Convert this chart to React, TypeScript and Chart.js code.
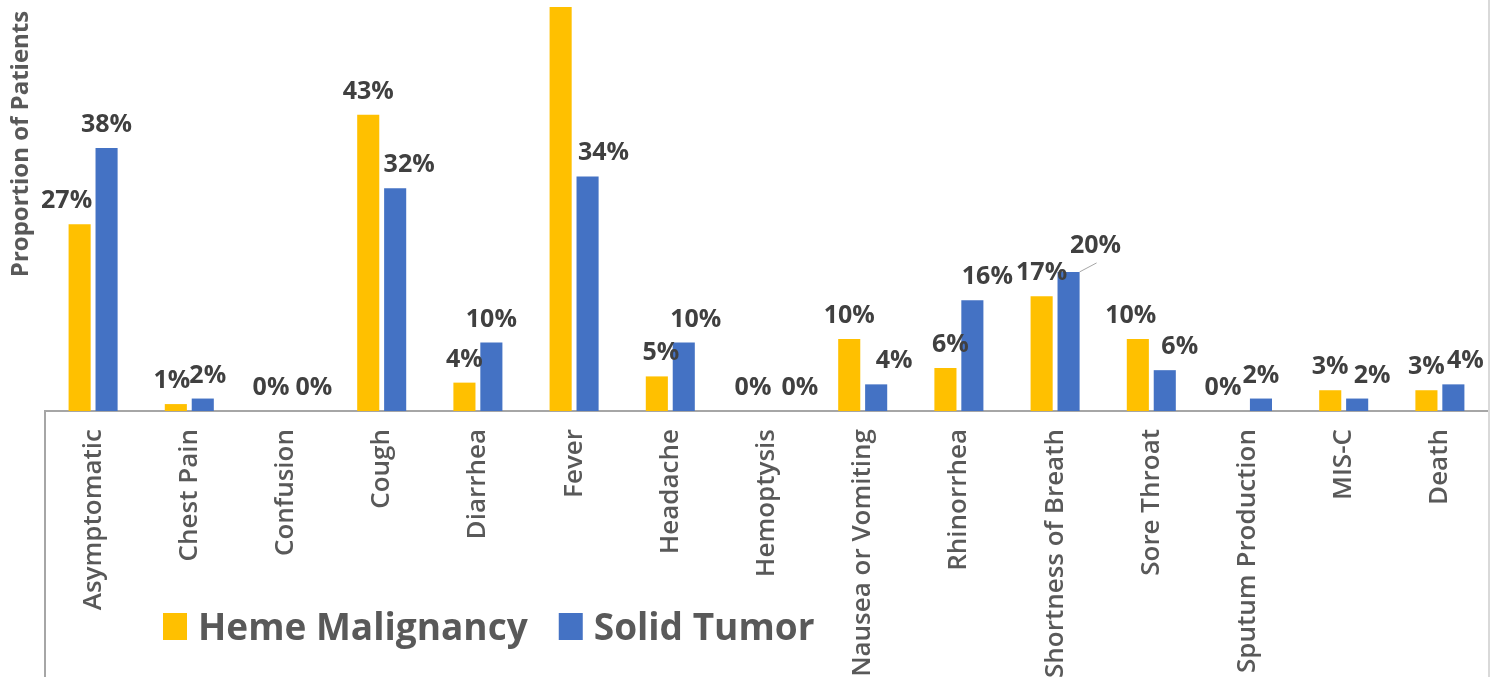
import React, { useEffect, useRef } from "react";
import { Chart, registerables } from "chart.js";

Chart.register(...registerables);

const categories = [
  "Asymptomatic",
  "Chest Pain",
  "Confusion",
  "Cough",
  "Diarrhea",
  "Fever",
  "Headache",
  "Hemoptysis",
  "Nausea or Vomiting",
  "Rhinorrhea",
  "Shortness of Breath",
  "Sore Throat",
  "Sputum Production",
  "MIS-C",
  "Death",
];
const seriesNames = ["Heme Malignancy", "Solid Tumor"];
const hemeValues = [27, 1, 0, 42.8, 4.1, 58.4, 5, 0, 10.4, 6.2, 16.6, 10.4, 0, 3, 3];
const solidValues = [38, 1.8, 0, 32.2, 9.9, 33.9, 9.9, 0, 3.85, 16, 20.1, 5.9, 1.8, 1.8, 3.85];
const yAxisTitle = "Proportion of Patients";
const yMax = 59.4;

const COLORS = ["#FFC000", "#4472C4"];
const TEXT_GRAY = "#595959";
const LABEL_GRAY = "#404040";
const FONT = "'Open Sans', 'Noto Sans', sans-serif";

// small label nudges (dataset-index:category-index -> [dx, dy]) like Excel's label placement
const labelNudges: Record<string, [number, number]> = {
  "0:0": [-13, 0],
  "0:1": [-4, 0],
  "1:1": [5, 0],
  "0:2": [-1, 0],
  "1:2": [15, 0],
  "1:3": [14, 0],
  "1:5": [16, 0],
  "0:6": [4, 0],
  "1:6": [12, 0],
  "1:7": [20, 0],
  "1:8": [18, 0],
  "0:9": [5, 0],
  "1:9": [15, 0],
  "1:10": [27, -3],
  "0:11": [-7, 0],
  "1:11": [15, 0],
  "0:12": [-11, 0],
  "1:13": [15, 0],
  "1:14": [12, 0],
};
const leaderLines = new Set(["1:10"]);

const decorPlugin = {
  id: "decor",
  beforeDraw(chart: any) {
    const { ctx } = chart;
    ctx.save();
    ctx.fillStyle = "#ffffff";
    ctx.fillRect(0, 0, chart.width, chart.height);
    ctx.restore();
  },
  afterDatasetsDraw(chart: any) {
    const { ctx } = chart;
    ctx.save();
    ctx.font = `bold 25px ${FONT}`;
    ctx.fillStyle = LABEL_GRAY;
    ctx.textAlign = "center";
    ctx.textBaseline = "alphabetic";
    chart.data.datasets.forEach((ds: any, di: number) => {
      const meta = chart.getDatasetMeta(di);
      meta.data.forEach((bar: any, j: number) => {
        const v = ds.data[j];
        const key = `${di}:${j}`;
        const [dx, dy] = labelNudges[key] || [0, 0];
        const txt = `${Math.round(v)}%`;
        const x = bar.x + dx;
        const y = bar.y - 16 + dy;
        ctx.fillText(txt, x, y);
        if (leaderLines.has(key)) {
          ctx.save();
          ctx.strokeStyle = "#a6a6a6";
          ctx.lineWidth = 1;
          ctx.beginPath();
          ctx.moveTo(bar.x + 11, bar.y);
          ctx.lineTo(bar.x + 28, bar.y - 9);
          ctx.stroke();
          ctx.restore();
        }
      });
    });
    ctx.restore();
  },
  afterDraw(chart: any) {
    const { ctx, chartArea } = chart;
    ctx.save();
    // left frame line below axis
    ctx.strokeStyle = "#a6a6a6";
    ctx.lineWidth = 2;
    ctx.beginPath();
    ctx.moveTo(chartArea.left, chartArea.bottom);
    ctx.lineTo(chartArea.left, chart.height);
    ctx.stroke();
    // right frame line
    ctx.strokeStyle = "#d9d9d9";
    ctx.beginPath();
    ctx.moveTo(chartArea.right + 1, 0);
    ctx.lineTo(chartArea.right + 1, chart.height);
    ctx.stroke();

    // y axis title
    ctx.save();
    ctx.translate(21, 144);
    ctx.rotate(-Math.PI / 2);
    ctx.font = `bold 24px ${FONT}`;
    ctx.fillStyle = TEXT_GRAY;
    ctx.textAlign = "center";
    ctx.textBaseline = "middle";
    ctx.fillText(yAxisTitle, 0, 0);
    ctx.restore();

    // legend
    ctx.font = `bold 37px ${FONT}`;
    ctx.textBaseline = "alphabetic";
    ctx.textAlign = "left";
    let x = 163;
    const baseline = 640;
    chart.data.datasets.forEach((ds: any) => {
      ctx.fillStyle = ds.backgroundColor;
      ctx.fillRect(x, 613, 24, 27);
      ctx.fillStyle = TEXT_GRAY;
      const tx = x + 35;
      ctx.fillText(ds.label, tx, baseline);
      x = tx + ctx.measureText(ds.label).width + 31;
    });
    ctx.restore();
  },
};

export default function App() {
  const ref = useRef<HTMLCanvasElement | null>(null);
  useEffect(() => {
    if (!ref.current) return;
    const chart = new Chart(ref.current, {
      type: "bar",
      data: {
        labels: categories,
        datasets: [
          {
            label: seriesNames[0],
            data: hemeValues,
            backgroundColor: COLORS[0],
            borderWidth: 0,
            categoryPercentage: 0.56,
            barPercentage: 0.82,
          },
          {
            label: seriesNames[1],
            data: solidValues,
            backgroundColor: COLORS[1],
            borderWidth: 0,
            categoryPercentage: 0.56,
            barPercentage: 0.82,
          },
        ],
      },
      options: {
        animation: false,
        responsive: false,
        maintainAspectRatio: false,
        layout: { padding: { left: 45, right: 9, top: 0, bottom: 0 } },
        plugins: {
          legend: { display: false },
          tooltip: { enabled: false },
          title: { display: false },
        },
        scales: {
          x: {
            grid: { display: false, drawTicks: false },
            border: { display: true, color: "#a6a6a6", width: 2 },
            ticks: {
              autoSkip: false,
              minRotation: 90,
              maxRotation: 90,
              padding: 18,
              color: TEXT_GRAY,
              font: { family: FONT, size: 26, weight: "600" as any },
            },
            afterFit: (scale: any) => {
              scale.height = 677 - 411;
            },
          },
          y: {
            display: false,
            min: 0,
            max: yMax,
            grid: { display: false },
          },
        },
      },
      plugins: [decorPlugin],
    });
    return () => chart.destroy();
  }, []);

  return (
    <div style={{ position: "fixed", left: 0, top: 0, width: 1497, height: 677, background: "#fff" }}>
      <canvas ref={ref} width={1497} height={677} style={{ width: 1497, height: 677, display: "block" }} />
    </div>
  );
}
